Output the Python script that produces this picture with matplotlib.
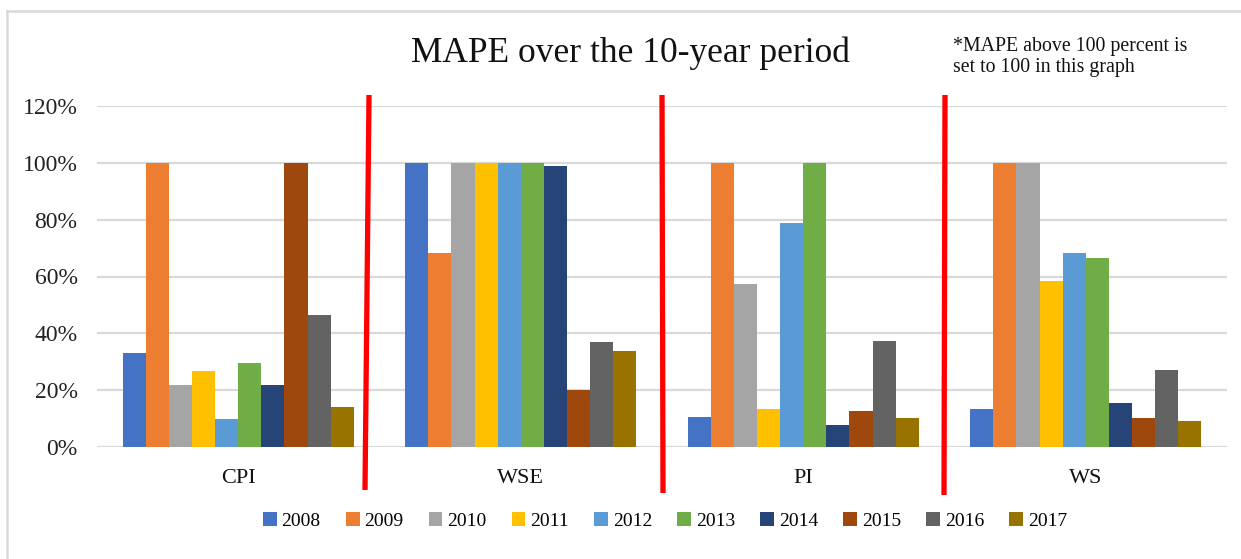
import numpy as np
import matplotlib.pyplot as plt
from matplotlib.lines import Line2D

# categorias e anos
categories = ["CPI", "WSE", "PI", "WS"]
years = ["2008", "2009", "2010", "2011", "2012", "2013", "2014", "2015", "2016", "2017"]

# MAPE (fração) por ano, na ordem das categorias
mape_2008 = [0.331, 1.00, 0.106, 0.135]
mape_2009 = [1.00, 0.681, 1.00, 1.00]
mape_2010 = [0.217, 1.00, 0.575, 1.00]
mape_2011 = [0.267, 1.00, 0.133, 0.583]
mape_2012 = [0.100, 1.00, 0.787, 0.684]
mape_2013 = [0.297, 1.00, 1.00, 0.665]
mape_2014 = [0.217, 0.989, 0.079, 0.156]
mape_2015 = [1.00, 0.202, 0.126, 0.102]
mape_2016 = [0.465, 0.368, 0.373, 0.272]
mape_2017 = [0.141, 0.338, 0.102, 0.090]

series = [mape_2008, mape_2009, mape_2010, mape_2011, mape_2012,
          mape_2013, mape_2014, mape_2015, mape_2016, mape_2017]

colors = ["#4472C4", "#ED7D31", "#A5A5A5", "#FFC000", "#5B9BD5",
          "#70AD47", "#264478", "#9E480E", "#636363", "#997300"]

W, H = 1241, 559
fig = plt.figure(figsize=(W / 100, H / 100), dpi=100)
ax = fig.add_axes([97 / W, 1 - 447 / H, (1227 - 97) / W, (447 - 106) / H])

serif = ["Liberation Serif", "DejaVu Serif"]

x = np.arange(len(categories))
bar_w = 0.0818
for i, (vals, c) in enumerate(zip(series, colors)):
    offset = (i - (len(series) - 1) / 2) * bar_w
    ax.bar(x + offset, vals, width=bar_w, color=c, label=years[i], zorder=3)

ax.set_xlim(-0.5, len(categories) - 0.5)
ax.set_ylim(0, 1.2)
ax.set_yticks(np.arange(0, 1.21, 0.2))
ax.set_yticklabels([f"{int(round(v * 100))}%" for v in np.arange(0, 1.21, 0.2)],
                   fontsize=17, family=serif, color="#222222")
ax.set_xticks(x)
ax.set_xticklabels(categories, fontsize=16, family=serif, color="#111111")
ax.tick_params(axis="y", length=0, pad=14)
ax.tick_params(axis="x", length=0, pad=16)
ax.grid(axis="y", color="#D9D9D9", linewidth=1.6, zorder=0)
for s in ax.spines.values():
    s.set_visible(False)

# título e nota
fig.text(630 / W, 1 - 53 / H, "MAPE over the 10-year period", ha="center", va="center",
         fontsize=25.5, family=serif, color="#111111")
fig.text(953 / W, 1 - 57 / H, "*MAPE above 100 percent is\nset to 100 in this graph",
         ha="left", va="center", fontsize=14.3, family=serif, color="#111111",
         linespacing=1.2)

# linhas vermelhas separando os grupos
red_lines = [((369, 95), (365, 490)), ((662, 95), (663, 493)), ((945, 95), (944, 495))]
for (x0, y0), (x1, y1) in red_lines:
    fig.add_artist(Line2D([x0 / W, x1 / W], [1 - y0 / H, 1 - y1 / H],
                          color="#FF0000", linewidth=3.8, solid_capstyle="butt"))

# borda do gráfico
fig.add_artist(Line2D([7 / W, 1], [1 - 11 / H, 1 - 11 / H], color="#D9D9D9", linewidth=1.8))
fig.add_artist(Line2D([7 / W, 7 / W], [1 - 11 / H, 0], color="#D9D9D9", linewidth=1.8))

fig.legend(loc="center", bbox_to_anchor=(665 / W, 1 - 521 / H), ncol=10, frameon=False,
           prop={"family": serif, "size": 14}, handlelength=0.7, handleheight=0.7,
           handletextpad=0.25, columnspacing=1.3)

fig.savefig("out.png", dpi=100)
